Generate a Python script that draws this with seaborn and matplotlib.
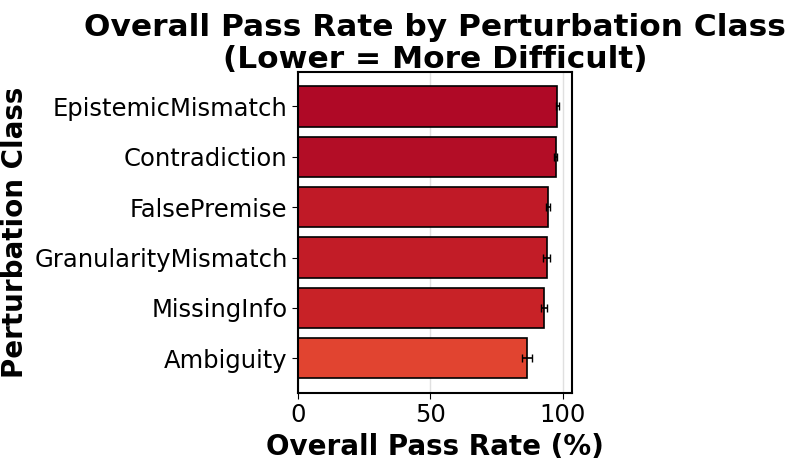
import matplotlib
matplotlib.use("Agg")
import matplotlib.pyplot as plt
import seaborn as sns
import numpy as np
import pandas as pd

categories = ["EpistemicMismatch", "Contradiction", "FalsePremise",
              "GranularityMismatch", "MissingInfo", "Ambiguity"]
pass_rate = [97.8, 97.2, 94.4, 93.8, 92.9, 86.5]
err = [0.6, 0.5, 0.9, 1.2, 1.1, 1.9]

sns.set_style("white")
plt.rcParams['font.family'] = ['DejaVu Sans']
plt.rcParams['text.color'] = 'black'
plt.rcParams['axes.labelcolor'] = 'black'
plt.rcParams['xtick.color'] = 'black'
plt.rcParams['ytick.color'] = 'black'

df = pd.DataFrame({"cls": categories, "rate": pass_rate})
cmap = plt.get_cmap("RdYlGn")
colors = [cmap(1 - v / 100) for v in pass_rate]

fig = plt.figure(figsize=(7.93, 4.61), dpi=100)
ax = fig.add_axes([0.3758, 0.1475, 0.3451, 0.697])
sns.barplot(data=df, x="rate", y="cls", hue="cls", palette=colors, legend=False,
            saturation=1, edgecolor="black", linewidth=1.2, width=0.8, ax=ax,
            orient="h", zorder=2)
ax.errorbar(pass_rate, np.arange(len(categories)), xerr=err, fmt="none",
            ecolor="black", elinewidth=1.2, capsize=3, zorder=3)
ax.set_xlim(0, 103.3)
ax.set_xticks([0, 50, 100])
ax.xaxis.grid(True, color="lightgray", alpha=0.7, linewidth=1, zorder=0)
ax.set_axisbelow(True)
for s in ax.spines.values():
    s.set_color("black")
    s.set_linewidth(1.5)
ax.tick_params(axis="both", labelsize=17.5, length=4, color="black", left=True, bottom=True)
ax.set_xlabel("Overall Pass Rate (%)", fontsize=20, fontweight="bold")
ax.set_ylabel("Perturbation Class", fontsize=20, fontweight="bold")
ax.set_title("Overall Pass Rate by Perturbation Class\n(Lower = More Difficult)",
             fontsize=22.5, fontweight="bold", pad=3, linespacing=1.12)
fig.savefig("out.png", dpi=100)
